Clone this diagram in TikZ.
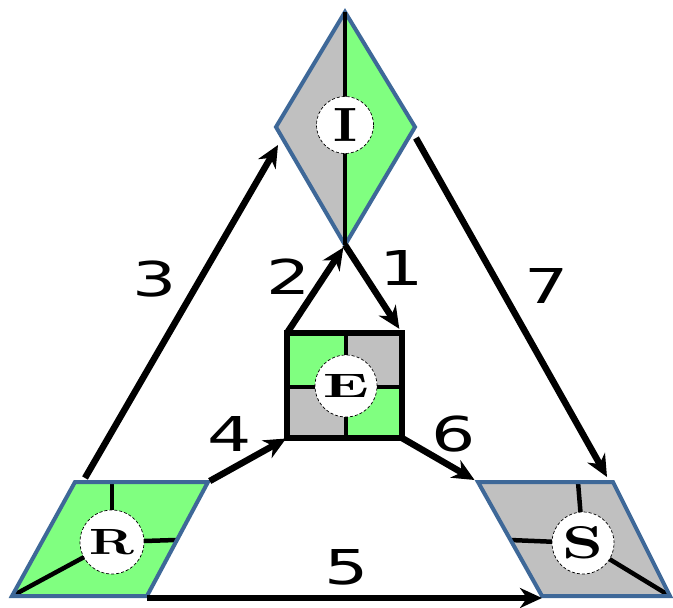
\documentclass[tikz,border=0pt]{standalone}
\usepackage{fontspec}
\newfontfamily\numfont{DejaVu Sans}
\usetikzlibrary{arrows.meta,calc}
\definecolor{edgeblue}{RGB}{62,104,152}
\definecolor{leafgreen}{RGB}{128,255,128}
\definecolor{stonegray}{RGB}{192,192,192}
\newcommand{\widetag}[1]{\scalebox{1.45}[1]{#1}}
\newcommand{\hubtext}[3]{\resizebox{#2}{#3}{\bfseries #1}}

\begin{document}
\begin{tikzpicture}[x=1pt, y=-1pt, >={Stealth[length=22pt,width=20pt,inset=7pt]},
		flow/.style={->, line width=6.5pt},
		rim/.style={draw=edgeblue, line width=4pt, line join=miter},
		spoke/.style={line width=4.5pt},
		hub/.style={circle, draw, densely dashed, line width=0.7pt, fill=white, minimum size=#1, inner sep=0pt},
		tag/.style={font=\numfont\fontsize{48}{48}\selectfont, inner sep=0pt}]
				\useasboundingbox (0,0) rectangle (673,608);
				% I
				\coordinate (Itop)   at (345,12);
				\coordinate (Ileft)  at (276,127);
				\coordinate (Ibot)   at (345,245);
				\coordinate (Iright) at (415,127);
				\fill[stonegray] (Itop) -- (Ileft) -- (Ibot) -- cycle;
				\fill[leafgreen] (Itop) -- (Iright) -- (Ibot) -- cycle;
				\draw[rim] (Itop) -- (Ileft) -- (Ibot) -- (Iright) -- cycle;
				\draw[spoke] (Itop) -- (Ibot);
				\node[hub=57pt] (I) at (345,125) {\hubtext{I}{24pt}{33pt}};
				% E
				\coordinate (Etl) at (287,333);
				\coordinate (Etr) at (402,333);
				\coordinate (Ebl) at (287,438);
				\coordinate (Ebr) at (402,438);
				\coordinate (Emid) at (346,387);
				\fill[leafgreen] (Etl) rectangle (Emid);
				\fill[stonegray] (Etr) rectangle (Emid);
				\fill[stonegray] (Ebl) rectangle (Emid);
				\fill[leafgreen] (Ebr) rectangle (Emid);
				\draw[spoke] (Emid -| Etl) -- (Emid -| Etr);
				\draw[spoke] (Emid |- Etl) -- (Emid |- Ebl);
				\draw[line width=6pt] (Etl) rectangle (Ebr);
				\node[hub=62pt] (E) at (346,386) {\hubtext{E}{46pt}{23pt}};
				% R
				\coordinate (Rtl) at (75,482);
				\coordinate (Rtr) at (208,482);
				\coordinate (Rbr) at (147,596);
				\coordinate (Rbl) at (12,596);
				\fill[leafgreen] (Rtl) -- (Rtr) -- (Rbr) -- (Rbl) -- cycle;
				\node[hub=64pt, draw=none, fill=none] (Rc) at (112,542) {};
				\draw[spoke] (Rc.center) -- (112,482);
				\draw[spoke] (Rc.center) -- (176,540);
				\draw[spoke] (Rc.center) -- (Rbl);
				\draw[rim] (Rtl) -- (Rtr) -- (Rbr) -- (Rbl) -- cycle;
				\node[hub=64pt] (R) at (112,542) {\hubtext{R}{45pt}{25pt}};
				% S
				\coordinate (Stl) at (478,482);
				\coordinate (Str) at (613,482);
				\coordinate (Sbr) at (670,596);
				\coordinate (Sbl) at (542,596);
				\fill[stonegray] (Stl) -- (Str) -- (Sbr) -- (Sbl) -- cycle;
				\node[hub=62pt, draw=none, fill=none] (Sc) at (583,543) {};
				\draw[spoke] (Sc.center) -- (578,482);
				\draw[spoke] (Sc.center) -- (510,540);
				\draw[spoke] (Sc.center) -- (Sbr);
				\draw[rim] (Stl) -- (Str) -- (Sbr) -- (Sbl) -- cycle;
				\node[hub=62pt] (S) at (583,543) {\hubtext{S}{41pt}{32pt}};
				% arrows
				\coordinate (R3) at (85,478);
				\coordinate (I3) at (278,145);
				\coordinate (I7) at (416,138);
				\coordinate (S7) at (607,477);
				\draw[flow] (R3) -- (I3);
				\draw[flow] (I7) -- (S7);
				\draw[flow, shorten >=3pt] (Etl) -- (Ibot);
				\draw[flow, shorten >=5pt] (Ibot) -- (Etr);
				\draw[flow, shorten <=2pt, shorten >=1pt] (Rtr) -- (Ebl);
				\draw[flow, shorten >=4pt] (Ebr) -- (Stl);
				\draw[flow] ($(Rbr)+(0,2)$) -- ($(Sbl)+(0,2)$);
				% labels
				\node[tag] (n1) at (402,268) {\widetag{1}};
				\node[tag] (n2) at (289,277) {\widetag{2}};
				\node[tag] (n3) at (155,279) {\widetag{3}};
				\node[tag] (n4) at (230,434) {\widetag{4}};
				\node[tag] (n5) at (347,567) {\widetag{5}};
				\node[tag] (n6) at (454,434) {\widetag{6}};
				\node[tag] (n7) at (547,286) {\widetag{7}};
		\end{tikzpicture}
\end{document}
